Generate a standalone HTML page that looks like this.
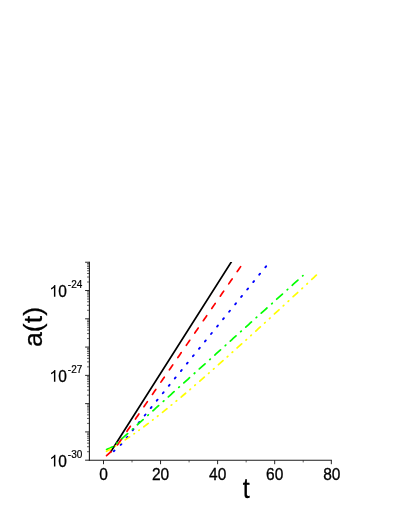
<!DOCTYPE html>
<html><head><meta charset="utf-8"><title>chart</title>
<style>html,body{margin:0;padding:0;background:#fff;}body{width:408px;height:528px;position:relative;overflow:hidden;}
svg{will-change:transform;}svg text{font-family:"Liberation Sans",sans-serif;fill:#000;}</style></head><body>
<svg width="408" height="528" viewBox="0 0 408 528" style="position:absolute;left:0;top:0">
<rect width="408" height="528" fill="#fff"/>
<clipPath id="cp"><rect x="90" y="262.0" width="250" height="198"/></clipPath>
<g clip-path="url(#cp)"><path d="M110.62,452.02 L234.05,257.65" fill="none" stroke="#000" stroke-width="1.7" stroke-linecap="round" stroke-linejoin="round"/></g>
<path d="M113.77,451.20 L114.55,450.58 M120.68,444.89 L121.38,444.16 M126.61,437.73 L127.41,436.75 M132.64,430.32 L133.44,429.33 M138.67,422.91 L139.47,421.92 M144.70,415.50 L145.50,414.51 M150.73,408.09 L151.53,407.10 M156.76,400.68 L157.56,399.69 M162.79,393.27 L163.59,392.28 M168.82,385.86 L169.62,384.87 M174.85,378.45 L175.65,377.46 M180.88,371.04 L181.68,370.05 M186.91,363.63 L187.71,362.64 M192.94,356.22 L193.74,355.23 M198.97,348.81 L199.77,347.82 M205.00,341.40 L205.80,340.41 M211.03,333.98 L211.83,333.00 M217.06,326.57 L217.86,325.59 M223.09,319.16 L223.89,318.18 M229.12,311.75 L229.92,310.77 M235.15,304.34 L235.95,303.36 M241.18,296.93 L241.98,295.95 M247.21,289.52 L248.01,288.54 M253.24,282.11 L254.04,281.13 M259.27,274.70 L260.07,273.72 M265.30,267.29 L266.10,266.31" fill="none" stroke="#0000ff" stroke-width="1.9" stroke-linecap="round" stroke-linejoin="round"/>
<path d="M106.53,455.63 L107.67,454.62 L108.80,453.60 L109.93,452.58 L111.07,451.57 M117.38,444.88 L118.51,443.50 L119.65,441.86 L120.78,440.21 L121.92,438.57 M126.96,431.26 L128.11,429.60 L129.25,427.95 L130.40,426.29 M135.44,418.98 L136.59,417.32 L137.73,415.66 L138.88,414.01 M143.92,406.70 L145.07,405.04 L146.21,403.38 L147.36,401.72 M152.40,394.42 L153.55,392.76 L154.69,391.10 L155.84,389.44 M160.88,382.13 L162.03,380.47 L163.17,378.82 L164.32,377.16 M169.36,369.85 L170.51,368.19 L171.65,366.53 L172.80,364.88 M177.84,357.57 L178.99,355.91 L180.13,354.25 L181.28,352.59 M186.32,345.28 L187.47,343.63 L188.61,341.97 L189.76,340.31 M194.80,333.00 L195.95,331.34 L197.09,329.69 L198.24,328.03 M203.28,320.72 L204.43,319.06 L205.57,317.40 L206.72,315.75 M211.76,308.44 L212.91,306.78 L214.05,305.12 L215.20,303.46 M220.24,296.15 L221.39,294.50 L222.53,292.84 L223.68,291.18 M228.72,283.87 L229.87,282.21 L231.01,280.56 L232.16,278.90 M237.20,271.59 L238.35,269.93 L239.49,268.27 L240.64,266.62" fill="none" stroke="#ff0000" stroke-width="1.7" stroke-linecap="round" stroke-linejoin="round"/>
<path d="M106.59,449.48 L108.08,448.88 L109.57,448.26 L111.07,447.54 L112.56,446.81 M116.89,443.22 L117.42,442.74 M121.91,438.69 L123.35,437.40 L124.78,436.11 L126.21,434.82 L127.65,433.53 M132.36,429.28 L132.90,428.80 M137.39,424.75 L138.83,423.46 L140.26,422.16 L141.69,420.87 L143.13,419.58 M147.84,415.33 L148.38,414.85 M152.87,410.80 L154.31,409.51 L155.74,408.22 L157.17,406.92 L158.61,405.63 M163.32,401.39 L163.86,400.90 M168.35,396.85 L169.79,395.56 L171.22,394.27 L172.65,392.98 L174.09,391.69 M178.80,387.44 L179.34,386.96 M183.83,382.91 L185.27,381.61 L186.70,380.32 L188.13,379.03 L189.57,377.74 M194.28,373.49 L194.82,373.01 M199.31,368.96 L200.75,367.67 L202.18,366.38 L203.61,365.08 L205.05,363.79 M209.76,359.55 L210.30,359.06 M214.79,355.01 L216.23,353.72 L217.66,352.43 L219.09,351.14 L220.53,349.84 M225.24,345.60 L225.78,345.11 M230.27,341.07 L231.71,339.77 L233.14,338.48 L234.57,337.19 L236.01,335.90 M240.72,331.65 L241.26,331.17 M245.75,327.12 L247.19,325.83 L248.62,324.53 L250.05,323.24 L251.49,321.95 M256.20,317.70 L256.74,317.22 M261.23,313.17 L262.67,311.88 L264.10,310.59 L265.53,309.30 L266.97,308.00 M271.68,303.76 L272.22,303.27 M276.71,299.23 L278.15,297.93 L279.58,296.64 L281.01,295.35 L282.45,294.06 M287.16,289.81 L287.70,289.33 M292.19,285.28 L293.63,283.99 L295.06,282.69 L296.49,281.40 L297.93,280.11 M302.64,275.86 L302.97,275.57" fill="none" stroke="#00ff00" stroke-width="1.7" stroke-linecap="round" stroke-linejoin="round"/>
<path d="M106.54,451.26 L107.99,450.46 L109.43,449.64 L110.87,448.81 M115.33,446.15 L115.68,445.94 M120.22,443.10 L120.58,442.87 M125.18,439.87 L126.64,438.90 L128.11,437.91 L129.57,436.91 M133.97,433.86 L134.38,433.57 M138.86,430.37 L139.28,430.06 M143.82,426.73 L145.30,425.62 L146.78,424.51 L148.26,423.39 M152.61,420.07 L153.07,419.72 M157.51,416.26 L157.97,415.89 M162.47,412.32 L163.97,411.13 L165.46,409.93 L166.95,408.72 M171.27,405.21 L171.75,404.81 M176.16,401.17 L176.66,400.76 M181.13,397.03 L182.63,395.77 L184.13,394.50 L185.63,393.23 M189.93,389.58 L190.43,389.15 M194.82,385.39 L195.34,384.94 M199.79,381.09 L200.92,380.11 L202.05,379.13 L203.18,378.15 L204.31,377.16 M208.59,373.42 L209.11,372.96 M213.49,369.10 L214.01,368.64 M218.46,364.71 L219.59,363.70 L220.72,362.69 L221.85,361.68 L222.99,360.67 M227.25,356.86 L227.79,356.38 M232.15,352.47 L232.69,351.99 M237.12,347.99 L238.26,346.97 L239.39,345.94 L240.53,344.92 L241.66,343.89 M245.92,340.03 L246.46,339.54 M250.82,335.58 L251.36,335.09 M255.79,331.05 L256.92,330.01 L258.06,328.98 L259.20,327.94 L260.33,326.90 M264.59,323.01 L265.13,322.50 M269.49,318.51 L270.03,318.01 M274.46,313.94 L275.59,312.90 L276.73,311.85 L277.87,310.80 L279.00,309.76 M283.25,305.84 L283.81,305.33 M288.15,301.32 L288.71,300.81 M293.12,296.72 L294.26,295.67 L295.40,294.62 L296.54,293.56 L297.68,292.51 M301.92,288.57 L302.48,288.06 M306.82,284.03 L307.38,283.51 M311.79,279.41 L312.93,278.36 L314.07,277.30 L315.21,276.24 L316.35,275.18" fill="none" stroke="#ffff00" stroke-width="1.7" stroke-linecap="round" stroke-linejoin="round"/>
<line x1="89.4" y1="261.79" x2="89.4" y2="460.75" stroke="#1c1c1c" stroke-width="1.1"/>
<line x1="88.85000000000001" y1="460.2" x2="331.9" y2="460.2" stroke="#1c1c1c" stroke-width="1.1"/>
<line x1="85.10000000000001" y1="460.20" x2="89.4" y2="460.20" stroke="#1c1c1c" stroke-width="0.95"/>
<line x1="87.0" y1="451.69" x2="89.4" y2="451.69" stroke="#1c1c1c" stroke-width="0.7"/>
<line x1="87.0" y1="446.71" x2="89.4" y2="446.71" stroke="#1c1c1c" stroke-width="0.7"/>
<line x1="87.0" y1="443.17" x2="89.4" y2="443.17" stroke="#1c1c1c" stroke-width="0.7"/>
<line x1="87.0" y1="440.43" x2="89.4" y2="440.43" stroke="#1c1c1c" stroke-width="0.7"/>
<line x1="87.0" y1="438.19" x2="89.4" y2="438.19" stroke="#1c1c1c" stroke-width="0.7"/>
<line x1="87.0" y1="436.30" x2="89.4" y2="436.30" stroke="#1c1c1c" stroke-width="0.7"/>
<line x1="87.0" y1="434.66" x2="89.4" y2="434.66" stroke="#1c1c1c" stroke-width="0.7"/>
<line x1="87.0" y1="433.21" x2="89.4" y2="433.21" stroke="#1c1c1c" stroke-width="0.7"/>
<line x1="85.10000000000001" y1="431.92" x2="89.4" y2="431.92" stroke="#1c1c1c" stroke-width="0.95"/>
<line x1="87.0" y1="423.41" x2="89.4" y2="423.41" stroke="#1c1c1c" stroke-width="0.7"/>
<line x1="87.0" y1="418.43" x2="89.4" y2="418.43" stroke="#1c1c1c" stroke-width="0.7"/>
<line x1="87.0" y1="414.89" x2="89.4" y2="414.89" stroke="#1c1c1c" stroke-width="0.7"/>
<line x1="87.0" y1="412.15" x2="89.4" y2="412.15" stroke="#1c1c1c" stroke-width="0.7"/>
<line x1="87.0" y1="409.91" x2="89.4" y2="409.91" stroke="#1c1c1c" stroke-width="0.7"/>
<line x1="87.0" y1="408.02" x2="89.4" y2="408.02" stroke="#1c1c1c" stroke-width="0.7"/>
<line x1="87.0" y1="406.38" x2="89.4" y2="406.38" stroke="#1c1c1c" stroke-width="0.7"/>
<line x1="87.0" y1="404.93" x2="89.4" y2="404.93" stroke="#1c1c1c" stroke-width="0.7"/>
<line x1="85.10000000000001" y1="403.64" x2="89.4" y2="403.64" stroke="#1c1c1c" stroke-width="0.95"/>
<line x1="87.0" y1="395.13" x2="89.4" y2="395.13" stroke="#1c1c1c" stroke-width="0.7"/>
<line x1="87.0" y1="390.15" x2="89.4" y2="390.15" stroke="#1c1c1c" stroke-width="0.7"/>
<line x1="87.0" y1="386.61" x2="89.4" y2="386.61" stroke="#1c1c1c" stroke-width="0.7"/>
<line x1="87.0" y1="383.87" x2="89.4" y2="383.87" stroke="#1c1c1c" stroke-width="0.7"/>
<line x1="87.0" y1="381.63" x2="89.4" y2="381.63" stroke="#1c1c1c" stroke-width="0.7"/>
<line x1="87.0" y1="379.74" x2="89.4" y2="379.74" stroke="#1c1c1c" stroke-width="0.7"/>
<line x1="87.0" y1="378.10" x2="89.4" y2="378.10" stroke="#1c1c1c" stroke-width="0.7"/>
<line x1="87.0" y1="376.65" x2="89.4" y2="376.65" stroke="#1c1c1c" stroke-width="0.7"/>
<line x1="85.10000000000001" y1="375.36" x2="89.4" y2="375.36" stroke="#1c1c1c" stroke-width="0.95"/>
<line x1="87.0" y1="366.85" x2="89.4" y2="366.85" stroke="#1c1c1c" stroke-width="0.7"/>
<line x1="87.0" y1="361.87" x2="89.4" y2="361.87" stroke="#1c1c1c" stroke-width="0.7"/>
<line x1="87.0" y1="358.33" x2="89.4" y2="358.33" stroke="#1c1c1c" stroke-width="0.7"/>
<line x1="87.0" y1="355.59" x2="89.4" y2="355.59" stroke="#1c1c1c" stroke-width="0.7"/>
<line x1="87.0" y1="353.35" x2="89.4" y2="353.35" stroke="#1c1c1c" stroke-width="0.7"/>
<line x1="87.0" y1="351.46" x2="89.4" y2="351.46" stroke="#1c1c1c" stroke-width="0.7"/>
<line x1="87.0" y1="349.82" x2="89.4" y2="349.82" stroke="#1c1c1c" stroke-width="0.7"/>
<line x1="87.0" y1="348.37" x2="89.4" y2="348.37" stroke="#1c1c1c" stroke-width="0.7"/>
<line x1="85.10000000000001" y1="347.08" x2="89.4" y2="347.08" stroke="#1c1c1c" stroke-width="0.95"/>
<line x1="87.0" y1="338.57" x2="89.4" y2="338.57" stroke="#1c1c1c" stroke-width="0.7"/>
<line x1="87.0" y1="333.59" x2="89.4" y2="333.59" stroke="#1c1c1c" stroke-width="0.7"/>
<line x1="87.0" y1="330.05" x2="89.4" y2="330.05" stroke="#1c1c1c" stroke-width="0.7"/>
<line x1="87.0" y1="327.31" x2="89.4" y2="327.31" stroke="#1c1c1c" stroke-width="0.7"/>
<line x1="87.0" y1="325.07" x2="89.4" y2="325.07" stroke="#1c1c1c" stroke-width="0.7"/>
<line x1="87.0" y1="323.18" x2="89.4" y2="323.18" stroke="#1c1c1c" stroke-width="0.7"/>
<line x1="87.0" y1="321.54" x2="89.4" y2="321.54" stroke="#1c1c1c" stroke-width="0.7"/>
<line x1="87.0" y1="320.09" x2="89.4" y2="320.09" stroke="#1c1c1c" stroke-width="0.7"/>
<line x1="85.10000000000001" y1="318.80" x2="89.4" y2="318.80" stroke="#1c1c1c" stroke-width="0.95"/>
<line x1="87.0" y1="310.29" x2="89.4" y2="310.29" stroke="#1c1c1c" stroke-width="0.7"/>
<line x1="87.0" y1="305.31" x2="89.4" y2="305.31" stroke="#1c1c1c" stroke-width="0.7"/>
<line x1="87.0" y1="301.77" x2="89.4" y2="301.77" stroke="#1c1c1c" stroke-width="0.7"/>
<line x1="87.0" y1="299.03" x2="89.4" y2="299.03" stroke="#1c1c1c" stroke-width="0.7"/>
<line x1="87.0" y1="296.79" x2="89.4" y2="296.79" stroke="#1c1c1c" stroke-width="0.7"/>
<line x1="87.0" y1="294.90" x2="89.4" y2="294.90" stroke="#1c1c1c" stroke-width="0.7"/>
<line x1="87.0" y1="293.26" x2="89.4" y2="293.26" stroke="#1c1c1c" stroke-width="0.7"/>
<line x1="87.0" y1="291.81" x2="89.4" y2="291.81" stroke="#1c1c1c" stroke-width="0.7"/>
<line x1="85.10000000000001" y1="290.52" x2="89.4" y2="290.52" stroke="#1c1c1c" stroke-width="0.95"/>
<line x1="87.0" y1="282.01" x2="89.4" y2="282.01" stroke="#1c1c1c" stroke-width="0.7"/>
<line x1="87.0" y1="277.03" x2="89.4" y2="277.03" stroke="#1c1c1c" stroke-width="0.7"/>
<line x1="87.0" y1="273.49" x2="89.4" y2="273.49" stroke="#1c1c1c" stroke-width="0.7"/>
<line x1="87.0" y1="270.75" x2="89.4" y2="270.75" stroke="#1c1c1c" stroke-width="0.7"/>
<line x1="87.0" y1="268.51" x2="89.4" y2="268.51" stroke="#1c1c1c" stroke-width="0.7"/>
<line x1="87.0" y1="266.62" x2="89.4" y2="266.62" stroke="#1c1c1c" stroke-width="0.7"/>
<line x1="87.0" y1="264.98" x2="89.4" y2="264.98" stroke="#1c1c1c" stroke-width="0.7"/>
<line x1="87.0" y1="263.53" x2="89.4" y2="263.53" stroke="#1c1c1c" stroke-width="0.7"/>
<line x1="85.10000000000001" y1="262.24" x2="89.4" y2="262.24" stroke="#1c1c1c" stroke-width="0.95"/>
<line x1="103.50" y1="460.2" x2="103.50" y2="464.2" stroke="#1c1c1c" stroke-width="0.95"/>
<line x1="132.03" y1="460.2" x2="132.03" y2="462.4" stroke="#1c1c1c" stroke-width="0.7"/>
<line x1="160.56" y1="460.2" x2="160.56" y2="464.2" stroke="#1c1c1c" stroke-width="0.95"/>
<line x1="189.09" y1="460.2" x2="189.09" y2="462.4" stroke="#1c1c1c" stroke-width="0.7"/>
<line x1="217.62" y1="460.2" x2="217.62" y2="464.2" stroke="#1c1c1c" stroke-width="0.95"/>
<line x1="246.15" y1="460.2" x2="246.15" y2="462.4" stroke="#1c1c1c" stroke-width="0.7"/>
<line x1="274.68" y1="460.2" x2="274.68" y2="464.2" stroke="#1c1c1c" stroke-width="0.95"/>
<line x1="303.21" y1="460.2" x2="303.21" y2="462.4" stroke="#1c1c1c" stroke-width="0.7"/>
<line x1="331.34" y1="460.2" x2="331.34" y2="464.2" stroke="#1c1c1c" stroke-width="0.95"/>
<text transform="translate(103.55,479.60) scale(0.93,1)" font-size="16.7" text-anchor="middle" stroke="#000" stroke-width="0.3">0</text>
<text transform="translate(160.61,479.60) scale(0.93,1)" font-size="16.7" text-anchor="middle" stroke="#000" stroke-width="0.3">20</text>
<text transform="translate(217.67,479.60) scale(0.93,1)" font-size="16.7" text-anchor="middle" stroke="#000" stroke-width="0.3">40</text>
<text transform="translate(274.73,479.60) scale(0.93,1)" font-size="16.7" text-anchor="middle" stroke="#000" stroke-width="0.3">60</text>
<text transform="translate(331.79,479.60) scale(0.93,1)" font-size="16.7" text-anchor="middle" stroke="#000" stroke-width="0.3">80</text>
<path d="M763 0H583V1147Q518 1085 412.5 1023T223 930V1104Q374 1175 487 1276T647 1472H763Z" transform="translate(49.3,466.50) scale(0.00796,-0.00796)" fill="#000"/>
<text transform="translate(58.36,466.50) scale(0.93,1)" font-size="16.7" text-anchor="start" stroke="#000" stroke-width="0.3">0</text>
<text transform="translate(67.80,457.90) scale(1.0,1)" font-size="10.0" text-anchor="start" stroke="#000" stroke-width="0.2">-30</text>
<path d="M763 0H583V1147Q518 1085 412.5 1023T223 930V1104Q374 1175 487 1276T647 1472H763Z" transform="translate(49.3,381.66) scale(0.00796,-0.00796)" fill="#000"/>
<text transform="translate(58.36,381.66) scale(0.93,1)" font-size="16.7" text-anchor="start" stroke="#000" stroke-width="0.3">0</text>
<text transform="translate(67.80,373.06) scale(1.0,1)" font-size="10.0" text-anchor="start" stroke="#000" stroke-width="0.2">-27</text>
<path d="M763 0H583V1147Q518 1085 412.5 1023T223 930V1104Q374 1175 487 1276T647 1472H763Z" transform="translate(49.3,296.82) scale(0.00796,-0.00796)" fill="#000"/>
<text transform="translate(58.36,296.82) scale(0.93,1)" font-size="16.7" text-anchor="start" stroke="#000" stroke-width="0.3">0</text>
<text transform="translate(67.80,288.22) scale(1.0,1)" font-size="10.0" text-anchor="start" stroke="#000" stroke-width="0.2">-24</text>
<text transform="translate(242.65,498.45) scale(0.92,1)" font-size="27.2" text-anchor="start" stroke="#000" stroke-width="0.3">t</text>
<text transform="translate(41.90,327.00) rotate(-90) scale(1.01,1)" font-size="26.5" text-anchor="middle" stroke="#000" stroke-width="0.25">a(t)</text>
</svg>
</body></html>
